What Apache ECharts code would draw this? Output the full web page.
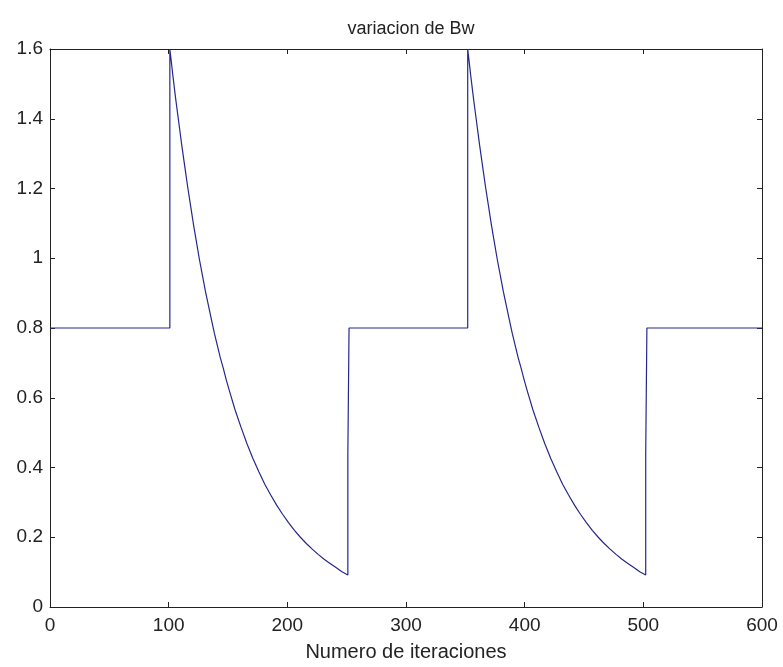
<!DOCTYPE html>
<html>
<head>
<meta charset="utf-8">
<script src="https://cdn.jsdelivr.net/npm/echarts@6/dist/echarts.min.js"></script>
<style>
  html, body { margin: 0; padding: 0; background: #fff; }
  #chart { width: 783px; height: 667px; }
</style>
</head>
<body>
<div id="chart"></div>
<script>
  // flat level and the two bursts
  const baseBw = 0.8;
  const cycleStarts = [101, 352];
  const cycleEnds = [251, 502];
  const midStepBw = 0.44;
  const xMax = 600;

  // decay after each burst, offset from the burst start
  const decayOffsets = [0, 2.5, 5, 7.5, 10, 12.5, 15, 17.5, 20, 22.5, 25, 27.5, 30, 32.5,
    35, 37.5, 40, 42.5, 45, 47.5, 50, 55, 60, 65, 70, 75, 80, 85, 90, 95, 100, 105,
    110, 115, 120, 125, 130, 135, 140, 145, 150];
  const decayBw = [1.60, 1.525, 1.455, 1.39, 1.325, 1.265, 1.205, 1.15, 1.095, 1.045,
    0.995, 0.95, 0.905, 0.865, 0.825, 0.785, 0.75, 0.715, 0.685, 0.652, 0.622,
    0.565, 0.515, 0.468, 0.426, 0.388, 0.352, 0.321, 0.292, 0.266, 0.242, 0.22,
    0.2, 0.182, 0.166, 0.151, 0.137, 0.125, 0.113, 0.101, 0.092];

  const xTicks = [0, 100, 200, 300, 400, 500, 600];
  const yTicks = [0, 0.2, 0.4, 0.6, 0.8, 1, 1.2, 1.4, 1.6];

  // build the points
  let points = [[0, baseBw]];
  for (let c = 0; c < cycleStarts.length; c++) {
    points.push([cycleStarts[c], baseBw]);
    for (let i = 0; i < decayOffsets.length; i++) {
      points.push([cycleStarts[c] + decayOffsets[i], decayBw[i]]);
    }
    points.push([cycleEnds[c], midStepBw]);
    points.push([cycleEnds[c] + 1, midStepBw]);
    points.push([cycleEnds[c] + 1, baseBw]);
  }
  points.push([xMax, baseBw]);

  const font = 'Liberation Sans, Arial, sans-serif';
  const axisLine = { show: true, onZero: false, lineStyle: { color: '#222', width: 1 } };
  const axisTick = { show: true, inside: true, length: 5, lineStyle: { color: '#222' } };

  const chart = echarts.init(document.getElementById('chart'));
  chart.setOption({
    backgroundColor: '#fff',
    animation: false,
    title: {
      text: 'variacion de Bw',
      left: 406,
      textAlign: 'center',
      top: 15,
      textStyle: { fontFamily: font, fontSize: 18, fontWeight: 'normal', color: '#222' }
    },
    grid: { left: 50, right: 21, top: 49, bottom: 59 },
    xAxis: [
      {
        type: 'value',
        position: 'bottom',
        min: 0,
        max: xMax,
        interval: 100,
        name: 'Numero de iteraciones',
        nameLocation: 'middle',
        nameGap: 35,
        nameTextStyle: { fontFamily: font, fontSize: 20, color: '#222' },
        axisLine: axisLine,
        axisTick: axisTick,
        axisLabel: { fontFamily: font, fontSize: 19, color: '#222', margin: 9 },
        splitLine: { show: false }
      },
      {
        type: 'value',
        position: 'top',
        min: 0,
        max: xMax,
        interval: 100,
        axisLine: axisLine,
        axisTick: axisTick,
        axisLabel: { show: false },
        splitLine: { show: false }
      }
    ],
    yAxis: [
      {
        type: 'value',
        position: 'left',
        min: 0,
        max: 1.6,
        interval: 0.2,
        axisLine: axisLine,
        axisTick: axisTick,
        axisLabel: { fontFamily: font, fontSize: 19, color: '#222', margin: 7 },
        splitLine: { show: false }
      },
      {
        type: 'value',
        position: 'right',
        min: 0,
        max: 1.6,
        interval: 0.2,
        axisLine: axisLine,
        axisTick: axisTick,
        axisLabel: { show: false },
        splitLine: { show: false }
      }
    ],
    series: [
      {
        type: 'line',
        data: points,
        showSymbol: false,
        symbol: 'none',
        lineStyle: { color: '#26268f', width: 1.2 },
        clip: true
      }
    ]
  });
</script>
</body>
</html>
